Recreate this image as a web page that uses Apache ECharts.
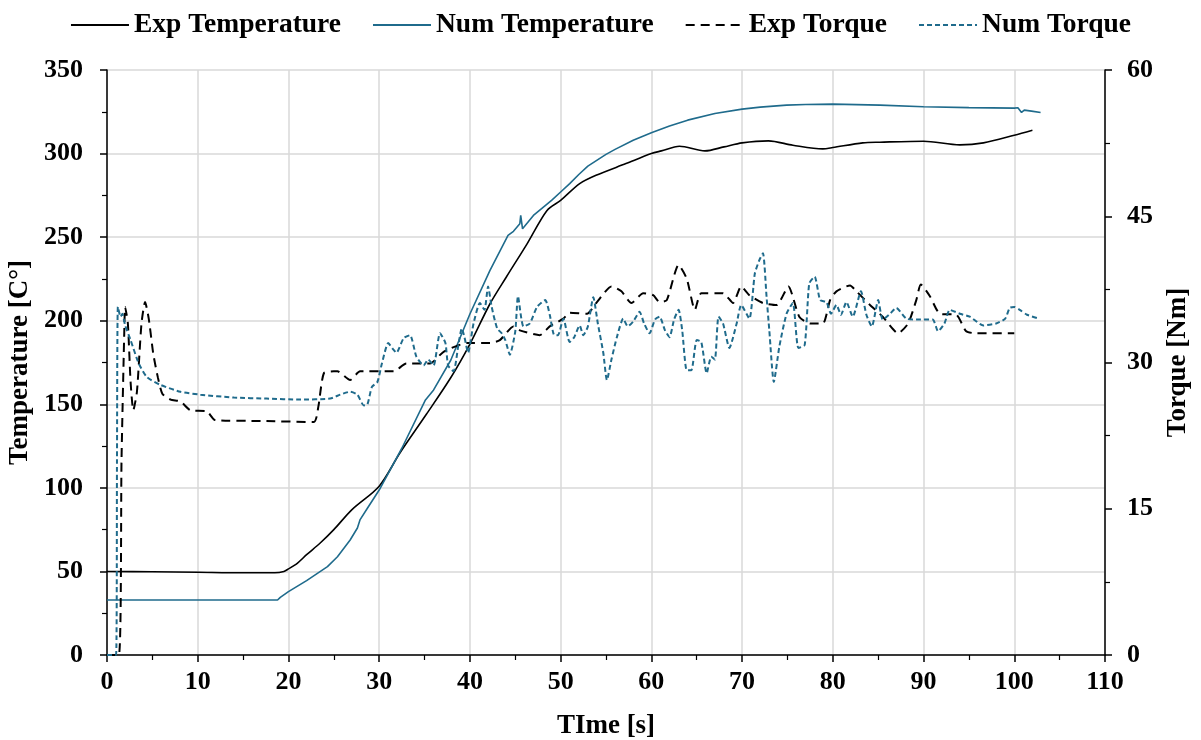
<!DOCTYPE html>
<html>
<head>
<meta charset="utf-8">
<script src="https://cdn.jsdelivr.net/npm/echarts@6/dist/echarts.min.js"></script>
<style>
  html, body { margin: 0; padding: 0; background: #fff; }
  #main { width: 1201px; height: 740px; }
</style>
</head>
<body>
<div id="main"></div>
<script>
// series names (legend)
var seriesNames = ['Exp Temperature', 'Num Temperature', 'Exp Torque', 'Num Torque'];

// Exp Temperature [C°] vs time [s]
var expTempT = [0, 5, 10, 15, 18.5, 19.5, 20, 21, 22, 23.5, 25, 27, 30, 32.3, 35.2, 37.9, 40, 42.2, 44, 46.3, 48.5, 50, 52.1, 53.9, 57.2, 60, 61.1, 63.1, 65.9, 68, 70, 72.9, 75.6, 78.9, 80, 83.3, 85.2, 90, 94, 96.6, 100, 102];
var expTempV = [50, 49.8, 49.5, 49.2, 49.2, 50, 51.5, 55, 60, 67, 75, 87, 101, 121, 144, 166, 186, 210, 226, 246, 266, 272, 282, 287, 294, 300, 301.6, 304.4, 301.6, 304, 306.4, 307.6, 305, 302.8, 303.6, 306.4, 306.8, 307.4, 305.2, 306.4, 311, 314];

// Num Temperature [C°]
var numTempT = [0, 18.8, 19.1, 20, 22, 24.3, 25.4, 26.8, 27.6, 27.9, 28.7, 30, 32.5, 35.1, 36, 37.9, 40, 42.2, 44.2, 44.8, 45.5, 45.6, 45.8, 47, 49, 50, 51, 52, 53, 55, 56, 58, 60, 62, 64, 67, 70, 72, 74.9, 77, 80, 85.2, 90, 95, 100, 100.4, 100.8, 101.1, 101.9, 102.9];
var numTempV = [32.9, 32.9, 34.5, 37.9, 44.5, 52.9, 58.8, 68.8, 76, 81, 87.8, 98.7, 123.7, 152.6, 158.6, 176.5, 204, 230, 251, 253.5, 258, 263, 255, 263, 272, 277, 282, 287.5, 292.5, 299.5, 302.5, 308, 312.5, 316.5, 320, 324, 326.6, 327.8, 329, 329.4, 329.6, 329, 328, 327.5, 327.2, 327.4, 324.6, 326, 325.4, 324.6];

// Exp Torque [Nm]
var expTorqueT = [0, 1.3, 1.6, 1.9, 2.0, 2.3, 2.6, 2.9, 3.3, 3.8, 4.2, 4.6, 5.1, 5.6, 6.1, 7.0, 8.1, 9.2, 11, 11.9, 17, 22.8, 23.3, 23.9, 25, 25.4, 26.8, 27.9, 31.6, 33, 35.6, 37.1, 39.7, 42.2, 43.3, 44.8, 45.5, 47.7, 48.8, 50.3, 51, 52.9, 54, 55.6, 56.7, 57.8, 59.1, 60.2, 60.9, 61.7, 63, 63.9, 64.8, 65.5, 67.9, 69, 69.9, 70.8, 72.3, 73.8, 75.1, 76.3, 77.5, 78.9, 79.7, 80.4, 81.9, 82.6, 84.1, 85.5, 87.2, 88.3, 89.2, 89.7, 90.7, 91.8, 93.6, 94.7, 95.8, 100];
var expTorqueV = [0, 0, 20, 33, 35.7, 34, 28, 25.1, 27, 34, 36.2, 34.5, 30.9, 28.5, 26.8, 26.2, 26.0, 25.1, 25, 24.1, 24, 23.9, 25.5, 28.9, 29.1, 29.1, 28.2, 29.1, 29.1, 29.9, 29.9, 31.1, 32.0, 32.0, 32.3, 33.7, 33.3, 32.8, 33.7, 34.5, 35.1, 35.0, 36.2, 37.8, 37.3, 36.1, 37.1, 36.9, 36.2, 36.4, 40.0, 38.6, 35.4, 37.1, 37.1, 36.1, 37.8, 36.9, 36.1, 35.9, 37.8, 34.7, 34.0, 34.0, 36.4, 37.3, 37.9, 37.3, 35.9, 34.7, 33.0, 34.0, 36.4, 38.0, 36.8, 35.0, 34.9, 33.2, 33.0, 33.0];

// Num Torque [Nm]
var numTorqueT = [0, 1.0, 1.1, 1.2, 1.5, 1.7, 2.0, 2.6, 3.5, 4.4, 5.9, 8.1, 10.3, 14, 17.6, 21.3, 24.6, 25.7, 26.8, 27.6, 28.3, 28.7, 29.2, 29.8, 30.3, 31.0, 31.5, 31.9, 32.7, 33.4, 34.1, 34.9, 35.4, 36.0, 36.7, 37.3, 37.6, 38.2, 38.7, 39.1, 39.4, 39.8, 40.4, 41.1, 41.6, 42.0, 42.4, 43.0, 43.5, 43.9, 44.4, 45.0, 45.3, 45.9, 46.6, 47.4, 48.3, 48.8, 49.3, 49.7, 50.3, 51.0, 51.5, 52.1, 52.5, 53.0, 53.6, 54.1, 54.7, 55.1, 55.6, 56.2, 56.9, 57.4, 58.0, 58.7, 59.2, 59.8, 60.4, 60.9, 61.5, 62.0, 62.5, 63.0, 63.4, 63.9, 64.4, 65.0, 65.5, 66.1, 66.6, 67.0, 67.4, 67.9, 68.6, 69.4, 69.9, 70.8, 71.4, 71.9, 72.3, 72.7, 73.0, 73.5, 74.1, 74.9, 75.6, 76.2, 76.9, 77.4, 78.0, 78.6, 79.3, 79.8, 80.4, 80.9, 81.5, 82.2, 83.1, 83.7, 84.3, 85.0, 85.5, 86.3, 87.0, 88.1, 89.2, 91.0, 91.6, 92.3, 92.9, 94.0, 95.1, 96.6, 98.0, 99.0, 99.5, 100.0, 100.6, 101.4, 102.7];
var numTorqueV = [0, 0, 20, 35.7, 34.7, 35.0, 33.8, 32.3, 29.9, 28.5, 27.7, 27.0, 26.7, 26.4, 26.3, 26.2, 26.3, 26.7, 27.0, 26.7, 25.6, 25.7, 27.5, 28.0, 29.9, 32.0, 31.4, 31.0, 32.5, 32.8, 30.6, 29.7, 30.3, 29.7, 33.0, 32.0, 29.7, 29.1, 31.6, 33.5, 32.6, 31.0, 34.0, 36.1, 35.4, 37.8, 35.7, 33.5, 33.0, 32.3, 30.8, 33.2, 36.8, 33.7, 34.0, 35.7, 36.4, 34.9, 32.8, 32.8, 34.5, 32.1, 32.6, 33.8, 32.8, 33.7, 36.7, 34.0, 31.0, 28.2, 30.3, 32.6, 34.5, 33.7, 34.2, 35.2, 34.0, 33.0, 34.4, 34.7, 33.3, 32.6, 34.4, 35.4, 33.3, 29.2, 29.2, 32.3, 32.1, 28.9, 30.6, 30.3, 34.7, 34.0, 31.5, 34.0, 35.9, 34.5, 39.1, 40.5, 41.2, 36.7, 33.3, 28.0, 31.6, 35.0, 36.1, 31.5, 31.8, 38.1, 38.8, 36.4, 36.2, 35.0, 35.9, 34.9, 36.2, 34.7, 37.3, 34.9, 33.7, 36.4, 34.4, 35.0, 35.6, 34.5, 34.4, 34.4, 33.2, 34.0, 35.4, 35.0, 34.7, 33.8, 34.0, 34.5, 35.6, 35.7, 35.4, 34.9, 34.5];

var blue = '#1f6b8c';
var font = 'Liberation Serif';

function zip(t, v) {
    return t.map(function (x, i) { return [x, v[i]]; });
}

var myChart = echarts.init(document.getElementById('main'), null, { renderer: 'canvas' });

var labelStyle = { fontFamily: font, fontWeight: 'bold', fontSize: 26, color: '#000' };
var nameStyle = { fontFamily: font, fontWeight: 'bold', fontSize: 27, color: '#000' };
var gridLine = { show: true, lineStyle: { color: '#d9d9d9', width: 1.5 } };
var axLine = { show: true, onZero: false, lineStyle: { color: '#000', width: 1.5 } };
var tick = { show: true, inside: false, length: 7, lineStyle: { color: '#000', width: 1.5 } };
var minor = { show: true, splitNumber: 2, length: 5, lineStyle: { color: '#000', width: 1.2 } };

var option = {
    animation: false,
    backgroundColor: '#fff',
    legend: {
        top: 6,
        left: 'center',
        itemWidth: 58,
        itemHeight: 14,
        itemGap: 31,
        itemStyle: { opacity: 0 },
        textStyle: { fontFamily: font, fontWeight: 'bold', fontSize: 27.5, color: '#000' },
        data: seriesNames
    },
    grid: { left: 107, right: 96, top: 70, bottom: 85, containLabel: false, outerBoundsMode: 'none' },
    xAxis: {
        type: 'value',
        min: 0, max: 110, interval: 10,
        name: 'TIme [s]',
        nameLocation: 'middle',
        nameGap: 58,
        nameTextStyle: nameStyle,
        axisLine: axLine,
        axisTick: tick,
        minorTick: minor,
        axisLabel: Object.assign({ margin: 14 }, labelStyle),
        splitLine: gridLine
    },
    yAxis: [{
        type: 'value',
        min: 0, max: 350, interval: 50,
        name: 'Temperature [C°]',
        nameLocation: 'middle',
        nameRotate: 90,
        nameGap: 70,
        nameTextStyle: nameStyle,
        axisLine: axLine,
        axisTick: tick,
        minorTick: minor,
        axisLabel: Object.assign({ margin: 24 }, labelStyle),
        splitLine: gridLine
    }, {
        type: 'value',
        min: 0, max: 60, interval: 15,
        position: 'right',
        name: 'Torque [Nm]',
        nameLocation: 'middle',
        nameRotate: 90,
        nameGap: 60,
        nameTextStyle: nameStyle,
        axisLine: axLine,
        axisTick: tick,
        minorTick: minor,
        axisLabel: Object.assign({ margin: 22 }, labelStyle),
        splitLine: { show: false }
    }],
    series: [{
        name: seriesNames[0],
        type: 'line',
        yAxisIndex: 0,
        symbol: 'none',
        smooth: 0.3,
        color: '#000',
        lineStyle: { color: '#000', width: 1.6 },
        data: zip(expTempT, expTempV)
    }, {
        name: seriesNames[1],
        type: 'line',
        yAxisIndex: 0,
        symbol: 'none',
        smooth: false,
        color: blue,
        lineStyle: { color: blue, width: 1.6 },
        data: zip(numTempT, numTempV)
    }, {
        name: seriesNames[2],
        type: 'line',
        yAxisIndex: 1,
        symbol: 'none',
        smooth: 0.2,
        color: '#000',
        lineStyle: { color: '#000', width: 2, type: [9, 6] },
        data: zip(expTorqueT, expTorqueV)
    }, {
        name: seriesNames[3],
        type: 'line',
        yAxisIndex: 1,
        symbol: 'none',
        smooth: 0.2,
        color: blue,
        lineStyle: { color: blue, width: 2, type: [5, 3] },
        data: zip(numTorqueT, numTorqueV)
    }]
};

myChart.setOption(option);
</script>
</body>
</html>
